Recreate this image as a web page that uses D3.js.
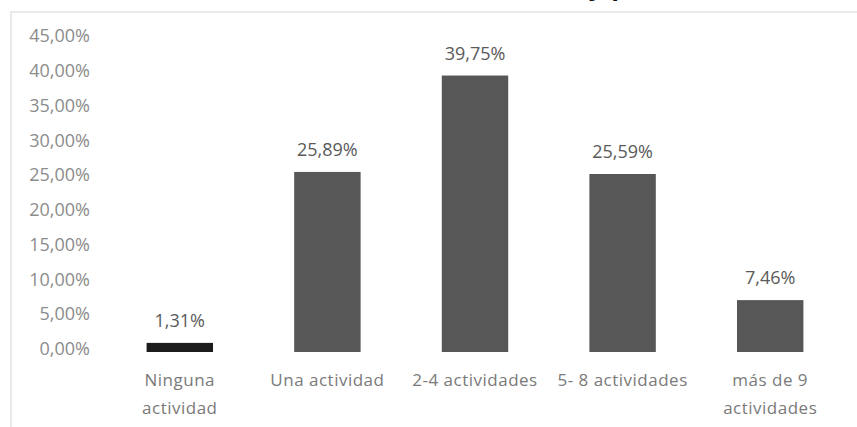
<!DOCTYPE html>
<html>
<head>
<meta charset="utf-8">
<script src="https://cdn.jsdelivr.net/npm/d3@7"></script>
<style>
  body { margin: 0; background: #fff; }
  svg { display: block; }
  .tick text { font-family: "Open Sans", sans-serif; }
</style>
</head>
<body>
<div id="chart"></div>
<script>
// categories and values (percent)
const categories = ["Ninguna actividad", "Una actividad", "2-4 actividades", "5- 8 actividades", "más de 9 actividades"];
const labelLines = [["Ninguna", "actividad"], ["Una actividad"], ["2-4 actividades"], ["5- 8 actividades"], ["más de 9", "actividades"]];
const values = [1.31, 25.89, 39.75, 25.59, 7.46];
const yTicks = [0, 5, 10, 15, 20, 25, 30, 35, 40, 45];

const w = 857;
const h = 427;

const fmt = v => v.toFixed(2).replace(".", ",") + "%";

const xScale = d3.scaleBand()
  .domain(categories)
  .range([106, 844])
  .paddingInner(0.55)
  .paddingOuter(0.275);

const yScale = d3.scaleLinear()
  .domain([0, 45])
  .range([352, 39]);

const svg = d3.select("#chart")
  .append("svg")
  .attr("width", w)
  .attr("height", h);

// frame of the chart area (scanned border)
svg.append("rect")
  .attr("x", 11)
  .attr("y", 12)
  .attr("width", w)
  .attr("height", h)
  .attr("fill", "none")
  .attr("stroke", "#e2e2e2")
  .attr("stroke-width", 1.5);

// bit of the title cut off at the top
svg.append("text")
  .attr("x", 588)
  .attr("y", -5)
  .attr("font-family", "Liberation Sans, sans-serif")
  .attr("font-weight", "bold")
  .attr("font-size", 28)
  .attr("fill", "#111")
  .text("y p");

// y axis, labels only
const yAxis = d3.axisLeft(yScale)
  .tickValues(yTicks)
  .tickFormat(fmt)
  .tickSize(0)
  .tickPadding(0);

const gy = svg.append("g")
  .attr("transform", "translate(90,0)")
  .call(yAxis);
gy.select(".domain").remove();
gy.selectAll("text")
  .attr("font-size", 18)
  .attr("fill", "#8c8c8c")
  .attr("dy", "0.15em");

// bars
svg.selectAll("rect.bar")
  .data(values)
  .enter()
  .append("rect")
    .attr("class", "bar")
    .attr("x", (d, i) => xScale(categories[i]))
    .attr("y", d => yScale(d))
    .attr("width", xScale.bandwidth())
    .attr("height", d => yScale(0) - yScale(d))
    .attr("fill", (d, i) => i === 0 ? "#1c1c1c" : "#575757");

// value labels
svg.selectAll("text.value")
  .data(values)
  .enter()
  .append("text")
    .attr("class", "value")
    .attr("x", (d, i) => xScale(categories[i]) + xScale.bandwidth() / 2)
    .attr("y", d => yScale(d) - 16)
    .attr("text-anchor", "middle")
    .attr("font-family", "Open Sans, sans-serif")
    .attr("font-size", 18)
    .attr("fill", "#5a5a5a")
    .text(fmt);

// category labels
const cat = svg.selectAll("text.cat")
  .data(labelLines)
  .enter()
  .append("text")
    .attr("class", "cat")
    .attr("text-anchor", "middle")
    .attr("font-family", "Open Sans, sans-serif")
    .attr("font-size", 17)
    .attr("letter-spacing", 0.5)
    .attr("fill", "#7a7a7a");

cat.selectAll("tspan")
  .data((d, i) => d.map(t => ({ t, i })))
  .enter()
  .append("tspan")
    .attr("x", d => xScale(categories[d.i]) + xScale.bandwidth() / 2)
    .attr("y", (d, j) => 386 + j * 28)
    .text(d => d.t);
</script>
</body>
</html>
